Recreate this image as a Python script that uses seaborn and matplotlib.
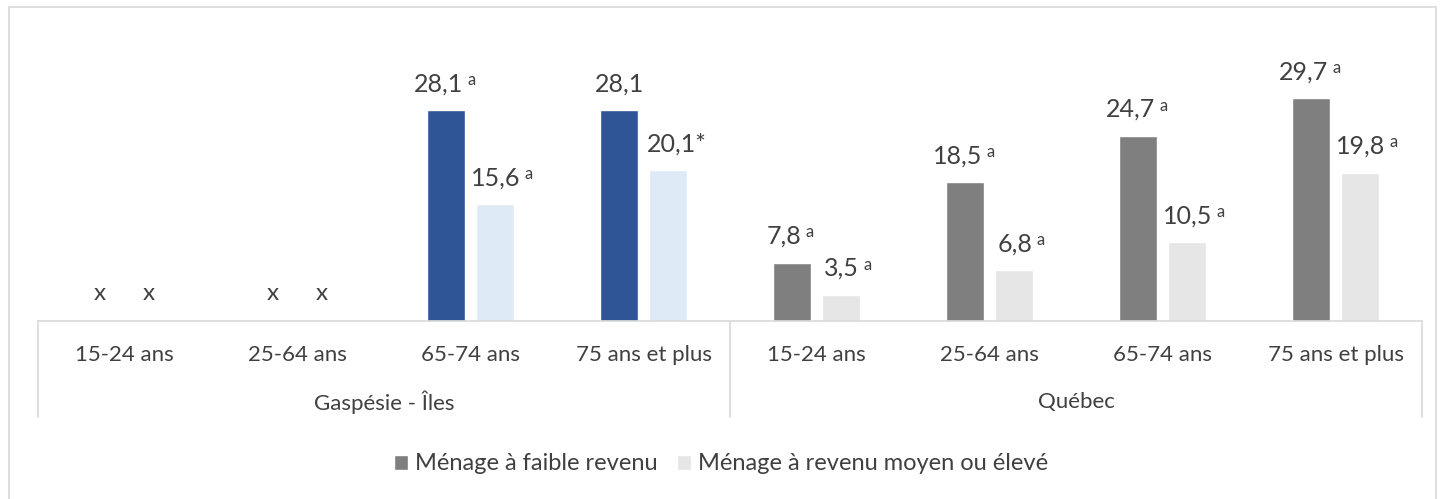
import numpy as np
import pandas as pd
import matplotlib
matplotlib.use("Agg")
import matplotlib.pyplot as plt
import matplotlib.transforms as mtransforms
from matplotlib.patches import Patch, Rectangle
import seaborn as sns

# Data (NaN = value not shown, "x")
regions = ["Gaspésie - Îles"] * 4 + ["Québec"] * 4
ages = ["15-24 ans", "25-64 ans", "65-74 ans", "75 ans et plus"] * 2
faible = [np.nan, np.nan, 28.1, 28.1, 7.8, 18.5, 24.7, 29.7]
moyen = [np.nan, np.nan, 15.6, 20.1, 3.5, 6.8, 10.5, 19.8]
note_faible = ["", "", "a", "", "a", "a", "a", "a"]
note_moyen = ["", "", "a", "*", "a", "a", "a", "a"]
series = ["Ménage à faible revenu", "Ménage à revenu moyen ou élevé"]

keys = [f"{r}|{a}" for r, a in zip(regions, ages)]
df = pd.DataFrame({
    "cat": keys * 2,
    "serie": [series[0]] * 8 + [series[1]] * 8,
    "val": faible + moyen,
})

sns.set_style("white")
plt.rcParams["font.family"] = ["Lato", "DejaVu Sans"]
txt_col = "#404040"
grid_col = "#D9D9D9"
gray_dark, gray_light = "#7F7F7F", "#E7E6E6"
blue_dark, blue_light = "#2F5597", "#DEEBF7"

fig = plt.figure(figsize=(14.42, 4.99), dpi=100)
fig.patches.append(Rectangle((9 / 1442, -0.01), 1427 / 1442, 1 - 7 / 499 + 0.01,
                             transform=fig.transFigure, fill=False,
                             edgecolor=grid_col, linewidth=1.2))
ax = fig.add_axes([38 / 1442, 178 / 499, 1384 / 1442, 262.5 / 499])

sns.barplot(data=df, x="cat", y="val", hue="serie", order=keys,
            hue_order=series, palette=[gray_dark, gray_light],
            width=0.566, gap=0.22, ax=ax, legend=False, errorbar=None)

# recolour the Gaspésie bars in blue
for c, cont in enumerate(ax.containers):
    for bar in cont:
        if bar.get_x() + bar.get_width() / 2 < 3.5:
            bar.set_facecolor(blue_dark if c == 0 else blue_light)

ax.set_xlim(-0.5, 7.5)
ax.set_ylim(0, 35)
ax.set_yticks([])
ax.set_xlabel("")
ax.set_ylabel("")
for s in ["top", "left", "right"]:
    ax.spines[s].set_visible(False)
ax.spines["bottom"].set_color(grid_col)
ax.spines["bottom"].set_linewidth(1.2)
ax.set_xticks(range(8))
ax.set_xticklabels(ages, fontsize=16, color=txt_col)
ax.tick_params(axis="x", length=0, pad=17)

# value labels (light-bar labels sit a bit to the right, as in the original)
off = 0.1416
for i in range(8):
    for vals, notes, dx, extra in [(faible, note_faible, -off, 0), (moyen, note_moyen, off, 6)]:
        v, n = vals[i], notes[i]
        if np.isnan(v):
            ax.annotate("x", (i + dx, 0), xytext=(0, 15), textcoords="offset points",
                        ha="center", va="baseline", fontsize=17.5, color=txt_col)
            continue
        lab = f"{v:.1f}".replace(".", ",")
        if n == "*":
            lab += "*"
        shift = (-5.5 if n == "a" else 0) + extra
        t = ax.annotate(lab, (i + dx, v), xytext=(shift, 13.5), textcoords="offset points",
                        ha="center", va="baseline", fontsize=18, color=txt_col)
        if n == "a":
            ax.annotate("a", xy=(1, 0), xycoords=t, xytext=(3, 7.5),
                        textcoords="offset points", ha="left", va="baseline",
                        fontsize=12, color=txt_col)

# multi-level category separators and group labels
trans = mtransforms.blended_transform_factory(ax.transData, ax.transAxes)
for xs in [-0.5, 3.5, 7.5]:
    ax.plot([xs, xs], [0, -96 / 262.5], color=grid_col, lw=1.2,
            transform=trans, clip_on=False)
for xc, name in [(1.5, "Gaspésie - Îles"), (5.5, "Québec")]:
    ax.text(xc, -81 / 262.5, name, transform=trans, ha="center", va="center",
            fontsize=16, color=txt_col)

handles = [Patch(facecolor=gray_dark), Patch(facecolor=gray_light)]
fig.legend(handles, series, loc="center", bbox_to_anchor=(0.5, 35 / 499), ncol=2,
           frameon=False, fontsize=17, handlelength=0.6, handleheight=0.6,
           handletextpad=0.3, columnspacing=0.8, labelcolor=txt_col)

fig.savefig("out.png", dpi=100)
